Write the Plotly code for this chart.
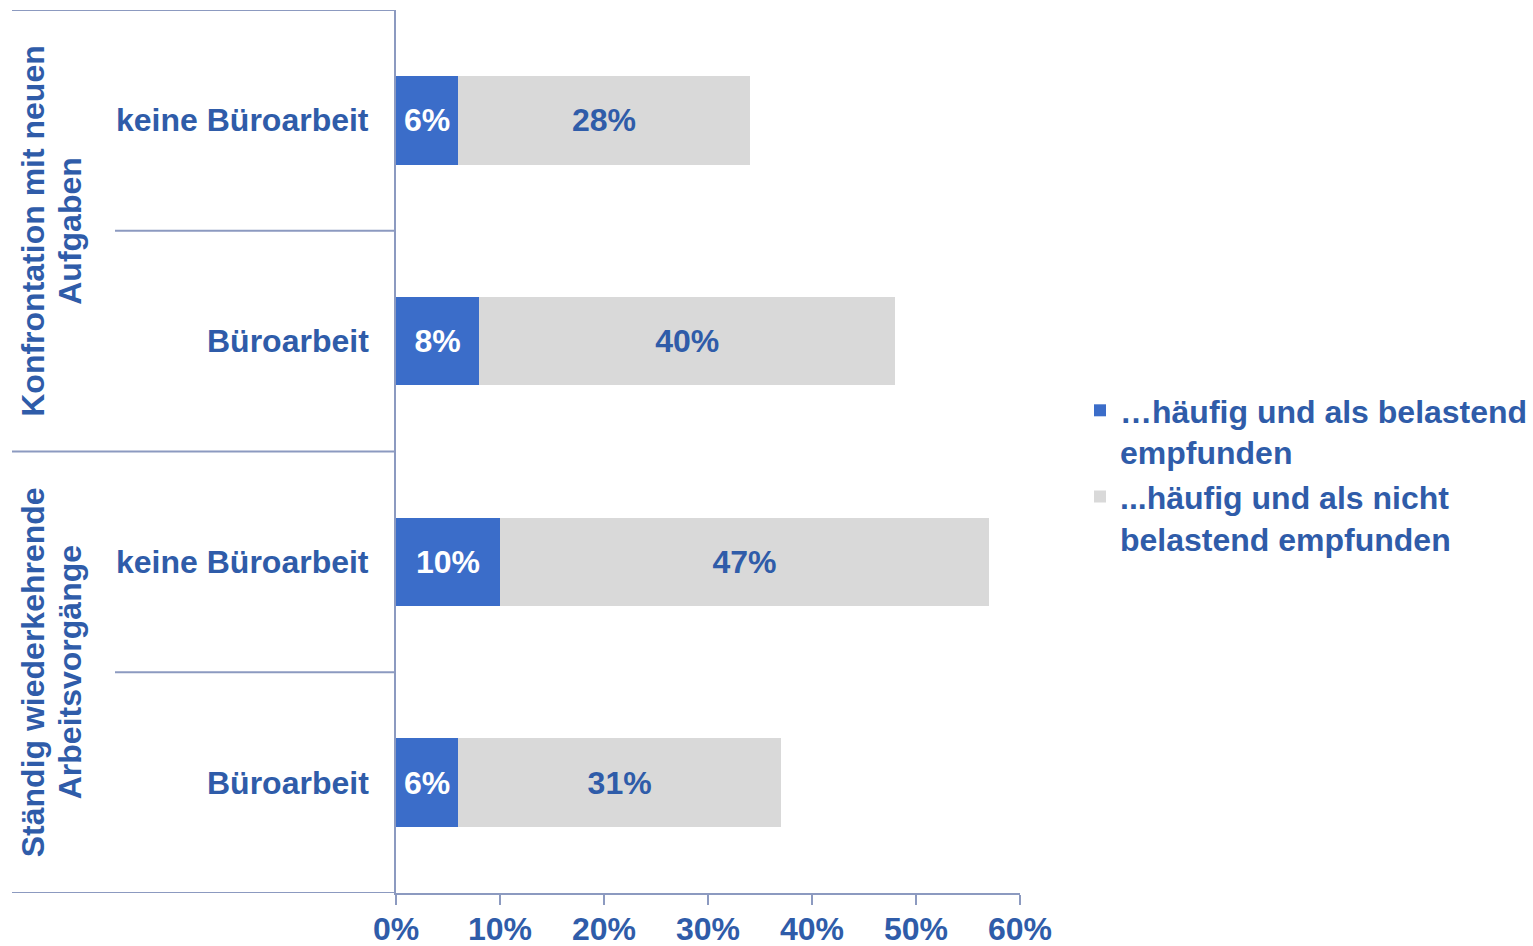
import plotly.graph_objects as go

# Categories (top to bottom)
groups = ["Konfrontation mit neuen<br>Aufgaben", "Ständig wiederkehrende<br>Arbeitsvorgänge"]
subcats = ["keine Büroarbeit", "Büroarbeit", "keine Büroarbeit", "Büroarbeit"]
row_pos = [3, 2, 1, 0]

# Shares in percent
belastend = [6, 8, 10, 6]
nicht_belastend = [28, 40, 47, 31]

series_names = ["…häufig und als belastend<br>empfunden",
                "...häufig und als nicht<br>belastend empfunden"]
tick_vals = [0, 10, 20, 30, 40, 50, 60]

BLUE = "#3B6DC9"
GREY = "#D9D9D9"
TEXT = "#2F5CA9"
LINE = "#8C9AC0"
FONT = "Liberation Sans, Arial, sans-serif"
FS = 32

W, H = 1533, 946
x_dom = [396 / W, 1020 / W]
y_dom = [(H - 893) / H, (H - 10) / H]

fig = go.Figure()
fig.add_trace(go.Bar(
    y=row_pos, x=belastend, orientation="h", name=series_names[0],
    marker=dict(color=BLUE, line=dict(width=0)),
    text=[f"{v}%" for v in belastend], textposition="inside",
    insidetextanchor="middle", constraintext="none",
    textfont=dict(family=FONT, size=FS, color="white", weight="bold"),
    width=0.4, hoverinfo="skip",
))
fig.add_trace(go.Bar(
    y=row_pos, x=nicht_belastend, orientation="h", name=series_names[1],
    marker=dict(color=GREY, line=dict(width=0)),
    text=[f"{v}%" for v in nicht_belastend], textposition="inside",
    insidetextanchor="middle", constraintext="none",
    textfont=dict(family=FONT, size=FS, color=TEXT, weight="bold"),
    width=0.4, hoverinfo="skip",
))

shapes = []
# Row separators on the category side
for yb, x0 in [(3.5, 12), (2.5, 115), (1.5, 12), (0.5, 115), (-0.5, 12)]:
    shapes.append(dict(type="line", xref="paper", yref="y",
                       x0=x0 / W, x1=x_dom[0], y0=yb, y1=yb,
                       line=dict(color=LINE, width=2)))

annotations = []
for name, yp in zip(subcats, row_pos):
    annotations.append(dict(text=name, xref="paper", yref="y",
                            x=371 / W, y=yp, xanchor="right", yanchor="middle",
                            showarrow=False,
                            font=dict(family=FONT, size=FS, color=TEXT, weight="bold")))

# Rotated group labels, one annotation per line
group_centers = [2.5, 0.5]
for g, yc in zip(groups, group_centers):
    lines = g.split("<br>")
    for line, xp in zip(lines, [33, 70]):
        annotations.append(dict(text=line, xref="paper", yref="y",
                                x=xp / W, y=yc, xanchor="center", yanchor="middle",
                                textangle=-90, showarrow=False,
                                font=dict(family=FONT, size=FS, color=TEXT, weight="bold")))

fig.update_layout(
    width=W, height=H,
    margin=dict(l=0, r=0, t=0, b=0, autoexpand=False),
    paper_bgcolor="white", plot_bgcolor="white",
    barmode="stack", bargap=0.6,
    showlegend=True,
    legend=dict(x=1080 / W, y=(H - 383) / H, xanchor="left", yanchor="top",
                traceorder="normal", valign="top", tracegroupgap=0,
                font=dict(family=FONT, size=FS, color=TEXT, weight="bold"),
                bgcolor="rgba(0,0,0,0)", itemclick=False),
    xaxis=dict(domain=x_dom, range=[0, 60], tickvals=tick_vals,
               ticktext=[f"{v}%" for v in tick_vals],
               showgrid=False, zeroline=False, showline=True,
               linecolor=LINE, linewidth=2, automargin=False,
               ticks="outside", ticklen=10, tickwidth=2, tickcolor=LINE,
               ticklabelstandoff=-3,
               tickfont=dict(family=FONT, size=FS, color=TEXT, weight="bold"),
               fixedrange=True),
    yaxis=dict(domain=y_dom, range=[-0.5, 3.5], showticklabels=False,
               showgrid=False, zeroline=False, showline=True, automargin=False,
               linecolor=LINE, linewidth=2, ticks="", fixedrange=True),
    shapes=shapes,
    annotations=annotations,
)

fig.write_html("out.html")
